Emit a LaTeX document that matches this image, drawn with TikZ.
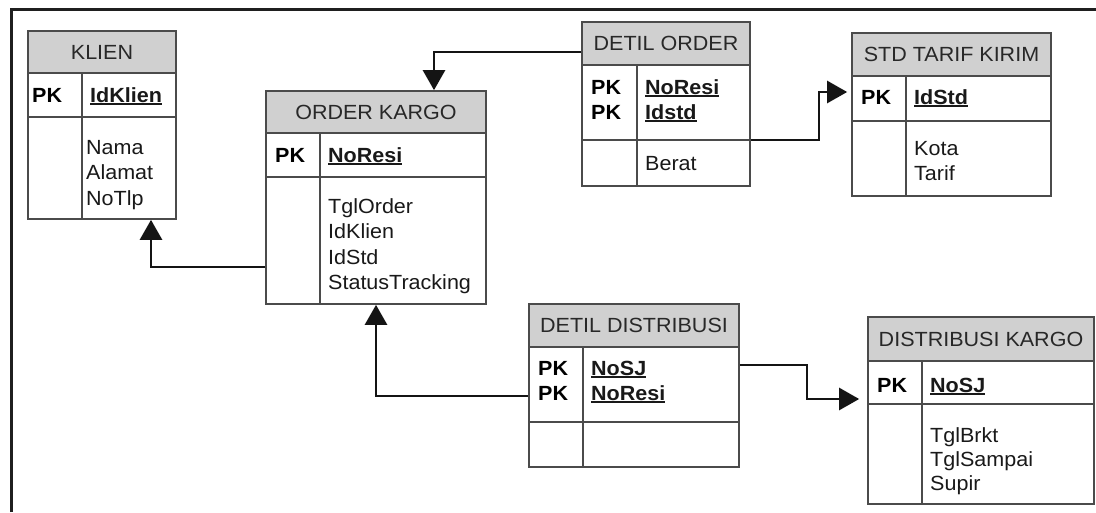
\documentclass[tikz,border=0pt]{standalone}
\usepackage{fontspec}
\setmainfont{Liberation Sans}[FakeStretch=1.05]
\usetikzlibrary{arrows.meta,fit}
\definecolor{hdrfill}{RGB}{208,208,208}
\definecolor{boxline}{RGB}{75,75,75}
\definecolor{txt}{RGB}{25,25,25}
\definecolor{hdrtxt}{RGB}{40,40,40}
\newsavebox\keybox
\newcommand\keyul[1]{\sbox\keybox{\textbf{#1}}\rlap{\rule[-2.8pt]{\wd\keybox}{1.7pt}}\usebox\keybox}
% name, x1, y1, x2, yhead, ypk, y2, xdiv, title
\newcommand\erdbox[9]{%
  \node[hdrbox, fit={(#2,#3) (#4,#5)}] (#1h) {};
  \node[tblbox, fit={(#2,#3) (#4,#7)}] (#1) {};
  \draw[tblline] (#2,#6) -- (#4,#6);
  \draw[tblline] (#8,#5) -- (#8,#7);
  \node[title] (#1t) at (#1h.center) {#9};
}
\begin{document}
\begin{tikzpicture}[x=1pt,y=-1pt,
  every node/.style={font=\fontsize{20.5}{24}\selectfont, text=txt, inner sep=0pt},
  hdrbox/.style={fill=hdrfill, draw=boxline, line width=1.7pt, inner sep=0pt},
  tblbox/.style={draw=boxline, line width=1.7pt, inner sep=0pt},
  tblline/.style={draw=boxline, line width=1.7pt},
  title/.style={text=hdrtxt},
  field/.style={anchor=base west},
  pk/.style={anchor=base west, font=\fontsize{20.5}{24}\selectfont\bfseries, text=black},
  conn/.style={draw=black!92, line width=2.7pt, -{Triangle[length=20pt,width=22pt]}},
]
\useasboundingbox (0,0) rectangle (1096,512);
\fill[white] (0,0) rectangle (1096,512);
% frame
\draw[line width=3pt, draw=black!88] (11,512) -- (11,9) -- (1096,9);

% KLIEN
\erdbox{kl}{28}{31}{176}{73}{117}{219}{82}{KLIEN}
\node[pk] (kl-pk) at (32,102) {PK};
\node[field] (kl-k) at (90,102) {\keyul{IdKlien}};
\node[field] (kl-a1) at (86,154) {Nama};
\node[field] (kl-a2) at (86,179.5) {Alamat};
\node[field] (kl-a3) at (86,205) {NoTlp};

% ORDER KARGO
\erdbox{ok}{266}{91}{486}{133}{177}{304}{320}{ORDER KARGO}
\node[pk] (ok-pk) at (275,162) {PK};
\node[field] (ok-k) at (328,162) {\keyul{NoResi}};
\node[field] (ok-a1) at (328,213) {TglOrder};
\node[field] (ok-a2) at (328,238.5) {IdKlien};
\node[field] (ok-a3) at (328,264) {IdStd};
\node[field] (ok-a4) at (328,289.5) {StatusTracking};

% DETIL ORDER
\erdbox{do}{582}{22}{750}{65}{140}{186}{637}{DETIL ORDER}
\node[pk] (do-pk1) at (591,94) {PK};
\node[pk] (do-pk2) at (591,119) {PK};
\node[field] (do-k1) at (645,94) {\keyul{NoResi}};
\node[field] (do-k2) at (645,119) {\keyul{Idstd}};
\node[field] (do-a1) at (645,170) {Berat};

% STD TARIF KIRIM
\erdbox{st}{852}{33}{1051}{76}{121}{196}{906}{STD TARIF KIRIM}
\node[pk] (st-pk) at (861,104) {PK};
\node[field] (st-k) at (914,104) {\keyul{IdStd}};
\node[field] (st-a1) at (914,155) {Kota};
\node[field] (st-a2) at (914,180) {Tarif};

% DETIL DISTRIBUSI
\erdbox{dd}{529}{304}{739}{347}{422}{467}{583}{DETIL DISTRIBUSI}
\node[pk] (dd-pk1) at (538,375) {PK};
\node[pk] (dd-pk2) at (538,400) {PK};
\node[field] (dd-k1) at (591,375) {\keyul{NoSJ}};
\node[field] (dd-k2) at (591,400) {\keyul{NoResi}};

% DISTRIBUSI KARGO
\erdbox{dk}{868}{317}{1094}{361}{404}{504}{922}{DISTRIBUSI KARGO}
\node[pk] (dk-pk) at (877,392) {PK};
\node[field] (dk-k) at (930,392) {\keyul{NoSJ}};
\node[field] (dk-a1) at (930,442) {TglBrkt};
\node[field] (dk-a2) at (930,466) {TglSampai};
\node[field] (dk-a3) at (930,490) {Supir};

% connectors
\draw[conn] ([yshift=-69.5pt]ok.west) -| ([xshift=49pt]kl.south);
\draw[conn] ([yshift=52pt]do.west) -| ([xshift=58pt]ok.north);
\draw[conn, shorten >=4pt] ([yshift=-36pt]do.east) -- ++(68,0) |- ([yshift=22.5pt]st.west);
\draw[conn] ([yshift=-10.5pt]dd.west) -| (ok.south);
\draw[conn, shorten >=8pt] ([yshift=20.5pt]dd.east) -- ++(67,0) |- ([yshift=11.5pt]dk.west);
\end{tikzpicture}
\end{document}
